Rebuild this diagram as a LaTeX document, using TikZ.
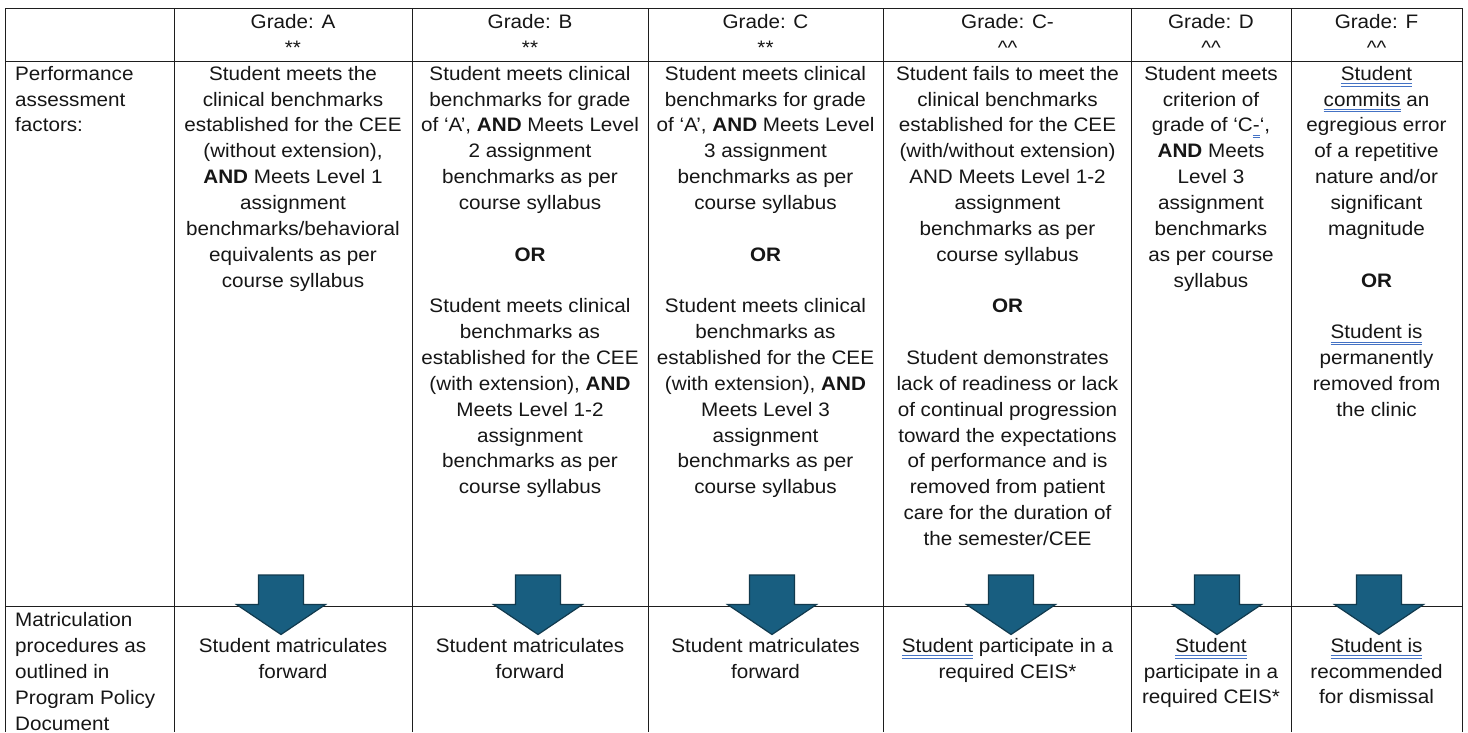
\documentclass[tikz,border=0pt]{standalone}
\usepackage{fontspec}
\setmainfont[FakeStretch=1.06]{Liberation Sans}
\definecolor{ink}{RGB}{22,22,22}
\definecolor{gridc}{RGB}{30,30,30}
\definecolor{arrowfill}{RGB}{24,94,128}
\definecolor{arrowline}{RGB}{17,58,78}
\definecolor{ulblue}{RGB}{68,114,196}
\newcommand\wul[1]{\setbox0\hbox{#1}\rlap{\color{ulblue}\rule[-4pt]{\wd0}{0.8pt}}\rlap{\color{ulblue}\rule[-6.2pt]{\wd0}{0.8pt}}\box0\relax}
\newcommand\cellfont{\fontsize{19.5}{25.85}\selectfont}
\begin{document}
\begin{tikzpicture}[x=1pt,y=-1pt,
  cell/.style={anchor=north,inner sep=0pt,align=center,font=\cellfont,text=ink},
  lcell/.style={anchor=north west,inner sep=0pt,align=left,font=\cellfont,text=ink},
  grid/.style={draw=gridc,line width=1pt},
  blockarrow/.style={fill=arrowfill,draw=arrowline,line width=1.2pt,line join=miter}]
\useasboundingbox (0,0) rectangle (1468,732);
\fill[white] (0,0) rectangle (1468,732);
% grid
\foreach \yy in {8,61,606} \draw[grid] (5,\yy) -- (1462,\yy);
\foreach \xx in {5,174,412,648,883,1131,1291,1462} \draw[grid] (\xx,8) -- (\xx,732);
% header
\node[cell] (hA) at (293,9.9) {\strut Grade: A\\**};
\node[cell] (hB) at (530,9.9) {\strut Grade: B\\**};
\node[cell] (hC) at (765.5,9.9) {\strut Grade: C\\**};
\node[cell] (hCm) at (1007.5,9.9) {\strut Grade: C-\\\textasciicircum\textasciicircum};
\node[cell] (hD) at (1211,9.9) {\strut Grade: D\\\textasciicircum\textasciicircum};
\node[cell] (hF) at (1376.5,9.9) {\strut Grade: F\\\textasciicircum\textasciicircum};
% performance row
\node[lcell] (pL) at (15,61.9) {\strut Performance\\assessment\\factors:};
\node[cell] (pA) at (293,61.9) {\strut Student meets the\\clinical benchmarks\\established for the CEE\\(without extension),\\\textbf{AND} Meets Level 1\\assignment\\benchmarks/behavioral\\equivalents as per\\course syllabus};
\node[cell] (pB) at (530,61.9) {\strut Student meets clinical\\benchmarks for grade\\of ‘A’, \textbf{AND} Meets Level\\2 assignment\\benchmarks as per\\course syllabus\\\strut\\\textbf{OR}\\\strut\\Student meets clinical\\benchmarks as\\established for the CEE\\(with extension), \textbf{AND}\\Meets Level 1-2\\assignment\\benchmarks as per\\course syllabus};
\node[cell] (pC) at (765.5,61.9) {\strut Student meets clinical\\benchmarks for grade\\of ‘A’, \textbf{AND} Meets Level\\3 assignment\\benchmarks as per\\course syllabus\\\strut\\\textbf{OR}\\\strut\\Student meets clinical\\benchmarks as\\established for the CEE\\(with extension), \textbf{AND}\\Meets Level 3\\assignment\\benchmarks as per\\course syllabus};
\node[cell] (pCm) at (1007.5,61.9) {\strut Student fails to meet the\\clinical benchmarks\\established for the CEE\\(with/without extension)\\AND Meets Level 1-2\\assignment\\benchmarks as per\\course syllabus\\\strut\\\textbf{OR}\\\strut\\Student demonstrates\\lack of readiness or lack\\of continual progression\\toward the expectations\\of performance and is\\removed from patient\\care for the duration of\\the semester/CEE};
\node[cell] (pD) at (1211,61.9) {\strut Student meets\\criterion of\\grade of ‘C\wul{-}‘,\\\textbf{AND} Meets\\Level 3\\assignment\\benchmarks\\as per course\\syllabus};
\node[cell] (pF) at (1376.5,61.9) {\strut\wul{Student}\\\wul{commits} an\\egregious error\\of a repetitive\\nature and/or\\significant\\magnitude\\\strut\\\textbf{OR}\\\strut\\\wul{Student is}\\permanently\\removed from\\the clinic};
% matriculation row
\node[lcell] (mL) at (15,608.4) {\strut Matriculation\\procedures as\\outlined in\\Program Policy\\Document};
\node[cell] (mA) at (293,633.9) {\strut Student matriculates\\forward};
\node[cell] (mB) at (530,633.9) {\strut Student matriculates\\forward};
\node[cell] (mC) at (765.5,633.9) {\strut Student matriculates\\forward};
\node[cell] (mCm) at (1007.5,633.9) {\strut\wul{Student} participate in a\\required CEIS*};
\node[cell] (mD) at (1211,633.9) {\strut\wul{Student}\\participate in a\\required CEIS*};
\node[cell] (mF) at (1376.5,633.9) {\strut\wul{Student is}\\recommended\\for dismissal};
% block arrows
\foreach \cx in {281,538,772,1011,1217,1379}
  \draw[blockarrow] (\cx-22.5,575) -- (\cx+22.5,575) -- (\cx+22.5,604.5) -- (\cx+44.5,604.5) -- (\cx,634.5) -- (\cx-44.5,604.5) -- (\cx-22.5,604.5) -- cycle;
\end{tikzpicture}
\end{document}
